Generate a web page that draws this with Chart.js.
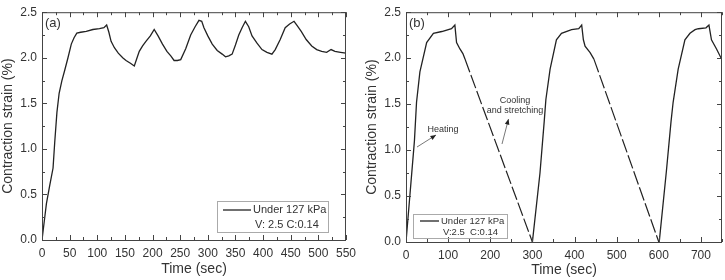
<!DOCTYPE html>
<html>
<head>
<meta charset="utf-8">
<script src="https://cdn.jsdelivr.net/npm/chart.js@4.4.1/dist/chart.umd.min.js"></script>
<style>
  body { margin: 0; background: #fff; }
  canvas { position: absolute; top: 0; }
  #chartA { left: 0; }
  #chartB { left: 363px; }
</style>
</head>
<body>
<canvas id="chartA" width="362" height="280"></canvas>
<canvas id="chartB" width="362" height="280"></canvas>
<script>
// panel (a): single heating run under 127 kPa
const timeA = [0, 4, 8, 14, 20, 23, 27, 31, 36, 41, 47, 53, 58, 63, 70, 80, 92, 104, 112, 117, 121, 125, 131, 138, 146, 152, 160, 167,
  172, 176, 182, 188, 196, 203, 210, 218, 226, 233, 239, 245, 251, 260, 269, 277, 284, 289, 293, 300, 308, 317, 326, 332, 338, 344,
  350, 356, 362, 368, 374, 380, 389, 398, 407, 416, 422, 431, 440, 448, 456, 462, 469, 478, 488, 497, 506, 515, 523, 530, 540, 550];
const strainA = [0, 0.2, 0.4, 0.6, 0.79, 1.07, 1.4, 1.61, 1.75, 1.86, 2.0, 2.15, 2.22, 2.27, 2.28, 2.29, 2.31, 2.32, 2.33, 2.36, 2.28, 2.18, 2.11, 2.05, 2.0, 1.97, 1.94, 1.91,
  2.0, 2.07, 2.13, 2.18, 2.24, 2.31, 2.24, 2.15, 2.07, 2.02, 1.97, 1.97, 1.98, 2.1, 2.25, 2.34, 2.41, 2.4, 2.33, 2.24, 2.15, 2.08, 2.04, 2.01, 2.02, 2.04,
  2.14, 2.25, 2.33, 2.4, 2.34, 2.24, 2.16, 2.09, 2.06, 2.04, 2.09, 2.2, 2.33, 2.37, 2.4, 2.35, 2.29, 2.2, 2.13, 2.09, 2.07, 2.06, 2.09, 2.07, 2.06, 2.05];

// panel (b): three heating cycles (solid) and the cooling/stretching ramps (dashed)
const timeB = [0, 10, 20, 25, 33, 49, 65, 85, 108, 116, 120, 128, 135, 140, null,
  300, 318, 328, 332, 342, 357, 369, 393, 410, 417, 421, 425, 437, 446, null,
  601, 618, 629, 634, 646, 662, 674, 686, 694, 712, 719, 725, 737, 749];
const strainB = [0, 0.55, 1.1, 1.52, 1.85, 2.17, 2.27, 2.29, 2.32, 2.36, 2.17, 2.10, 2.05, 1.99, null,
  0, 0.75, 1.31, 1.55, 1.88, 2.2, 2.27, 2.31, 2.32, 2.36, 2.2, 2.13, 2.06, 1.99, null,
  0, 0.77, 1.31, 1.52, 1.88, 2.2, 2.27, 2.31, 2.32, 2.33, 2.36, 2.2, 2.10, 1.99];
const coolTime = [140, 300, null, 446, 600];
const coolStrain = [1.99, 0, null, 1.99, 0];

const yTicks = [0, 0.5, 1.0, 1.5, 2.0, 2.5];
const legendLabel = 'Under 127 kPa';

const FONT = "'Liberation Sans', Arial, sans-serif";
const INK = '#222';

function pts(xs, ys) {
  return xs.map((x, i) => ({ x: x, y: ys[i] }));
}

// Origin-style frame: box around the plot and inward ticks on all four sides
const framePlugin = {
  id: 'frame',
  afterDatasetsDraw(chart, args, opts) {
    const { ctx, chartArea: a, scales } = chart;
    ctx.save();
    ctx.strokeStyle = '#444';
    ctx.lineWidth = 1;
    ctx.strokeRect(a.left + 0.5, a.top + 0.5, a.right - a.left - 1, a.bottom - a.top);
    ctx.beginPath();
    const xs = scales.x, ys = scales.y;
    for (let v = xs.min; v <= xs.max + 1e-9; v += opts.minorX) {
      const px = Math.round(xs.getPixelForValue(v)) + 0.5;
      const major = Math.abs(v / opts.majorX - Math.round(v / opts.majorX)) < 1e-6;
      const len = major ? 5 : 3;
      ctx.moveTo(px, a.bottom); ctx.lineTo(px, a.bottom - len);
      ctx.moveTo(px, a.top); ctx.lineTo(px, a.top + len);
    }
    for (let v = ys.min; v <= ys.max + 1e-9; v += opts.minorY) {
      const py = Math.round(ys.getPixelForValue(v)) + 0.5;
      const major = Math.abs(v / opts.majorY - Math.round(v / opts.majorY)) < 1e-6;
      const len = major ? 5 : 3;
      ctx.moveTo(a.left, py); ctx.lineTo(a.left + len, py);
      ctx.moveTo(a.right, py); ctx.lineTo(a.right - len, py);
    }
    ctx.stroke();
    ctx.restore();
  },
  afterDraw(chart, args, opts) {
    const { ctx, chartArea: a } = chart;
    ctx.save();
    ctx.fillStyle = '#333';
    ctx.font = '13px ' + FONT;
    ctx.textBaseline = 'middle';
    ctx.fillText(opts.tag, a.left + 3, a.top + 11);

    // legend box
    const lg = opts.legend;
    ctx.strokeStyle = '#aaa';
    ctx.lineWidth = 1;
    ctx.strokeRect(lg.x + 0.5, lg.y + 0.5, lg.w, lg.h);
    ctx.strokeStyle = INK;
    ctx.lineWidth = 1.3;
    ctx.beginPath();
    ctx.moveTo(lg.x + lg.lineX0, lg.y + lg.row1);
    ctx.lineTo(lg.x + lg.lineX1, lg.y + lg.row1);
    ctx.stroke();
    ctx.font = lg.size + 'px ' + FONT;
    ctx.fillText(legendLabel, lg.x + lg.lineX1 + 2, lg.y + lg.row1);
    ctx.fillText(lg.note, lg.x + lg.lineX1 + 4, lg.y + lg.row2);

    // annotations with arrows
    (opts.notes || []).forEach(n => {
      ctx.font = '9px ' + FONT;
      ctx.textAlign = 'center';
      ctx.fillStyle = '#333';
      n.lines.forEach((t, i) => ctx.fillText(t, n.tx, n.ty + i * 10));
      ctx.strokeStyle = '#555';
      ctx.lineWidth = 0.8;
      ctx.beginPath();
      ctx.moveTo(n.ax0, n.ay0);
      ctx.lineTo(n.ax1, n.ay1);
      ctx.stroke();
      const ang = Math.atan2(n.ay1 - n.ay0, n.ax1 - n.ax0);
      ctx.fillStyle = '#222';
      ctx.beginPath();
      ctx.moveTo(n.ax1, n.ay1);
      ctx.lineTo(n.ax1 - 6 * Math.cos(ang - 0.4), n.ay1 - 6 * Math.sin(ang - 0.4));
      ctx.lineTo(n.ax1 - 6 * Math.cos(ang + 0.4), n.ay1 - 6 * Math.sin(ang + 0.4));
      ctx.closePath();
      ctx.fill();
    });
    ctx.restore();
  }
};

function makeOptions(cfg) {
  return {
    responsive: false,
    animation: false,
    devicePixelRatio: 1,
    layout: { padding: { top: cfg.top, right: cfg.right, left: 0, bottom: 0 } },
    plugins: {
      legend: { display: false },
      tooltip: { enabled: false },
      frame: cfg.frame
    },
    elements: { point: { radius: 0 }, line: { tension: 0 } },
    scales: {
      x: {
        type: 'linear',
        min: 0,
        max: cfg.xMax,
        grid: { display: false, drawTicks: false },
        border: { display: false },
        ticks: {
          stepSize: cfg.xStep,
          includeBounds: false,
          maxRotation: 0,
          autoSkip: false,
          padding: cfg.xPad,
          color: '#333',
          font: { family: FONT, size: 12 }
        },
        title: {
          display: true,
          text: 'Time (sec)',
          color: '#333',
          font: { family: FONT, size: 14 },
          padding: { top: 0, bottom: cfg.titlePad }
        },
        afterFit: s => { s.height = cfg.xHeight; }
      },
      y: {
        min: 0,
        max: 2.5,
        grid: { display: false, drawTicks: false },
        border: { display: false },
        afterBuildTicks: s => { s.ticks = yTicks.map(v => ({ value: v })); },
        ticks: {
          padding: 5,
          color: '#333',
          font: { family: FONT, size: 12 },
          callback: v => v.toFixed(1)
        },
        title: {
          display: true,
          text: 'Contraction strain (%)',
          color: '#333',
          font: { family: FONT, size: 14 },
          padding: { top: cfg.yTitlePad, bottom: 0 }
        },
        afterFit: s => { s.width = cfg.yWidth; }
      }
    }
  };
}

new Chart(document.getElementById('chartA'), {
  type: 'line',
  data: {
    datasets: [{
      label: legendLabel,
      data: pts(timeA, strainA),
      borderColor: INK,
      borderWidth: 1.3,
      fill: false
    }]
  },
  options: makeOptions({
    top: 7, right: 14, xMax: 550, xStep: 50, xPad: 6, xHeight: 40, titlePad: 2, yWidth: 42, yTitlePad: 0,
    frame: {
      tag: '(a)', majorX: 50, minorX: 25, majorY: 0.5, minorY: 0.25,
      legend: { x: 217, y: 201, w: 111, h: 31, lineX0: 6, lineX1: 34, row1: 9, row2: 24, size: 11, note: 'V: 2.5 C:0.14' }
    }
  }),
  plugins: [framePlugin]
});

new Chart(document.getElementById('chartB'), {
  type: 'line',
  data: {
    datasets: [{
      label: legendLabel,
      data: pts(timeB, strainB),
      borderColor: INK,
      borderWidth: 1.3,
      spanGaps: false,
      fill: false
    }, {
      label: 'cooling',
      data: pts(coolTime, coolStrain),
      borderColor: INK,
      borderWidth: 1.2,
      borderDash: [14, 3],
      spanGaps: false,
      fill: false
    }]
  },
  options: makeOptions({
    top: 9, right: 3, xMax: 750, xStep: 100, xPad: 6, xHeight: 38, titlePad: 1, yWidth: 43, yTitlePad: 1,
    frame: {
      tag: '(b)', majorX: 100, minorX: 50, majorY: 0.5, minorY: 0.25,
      legend: { x: 50, y: 214, w: 94, h: 24, lineX0: 7, lineX1: 26, row1: 7, row2: 18, size: 9.5, note: 'V:2.5  C:0.14' },
      notes: [
        { lines: ['Heating'], tx: 80, ty: 130, ax0: 54, ay0: 147, ax1: 73, ay1: 135 },
        { lines: ['Cooling', 'and stretching'], tx: 152, ty: 101, ax0: 139, ay0: 144, ax1: 145.5, ay1: 119 }
      ]
    }
  }),
  plugins: [framePlugin]
});
</script>
</body>
</html>
